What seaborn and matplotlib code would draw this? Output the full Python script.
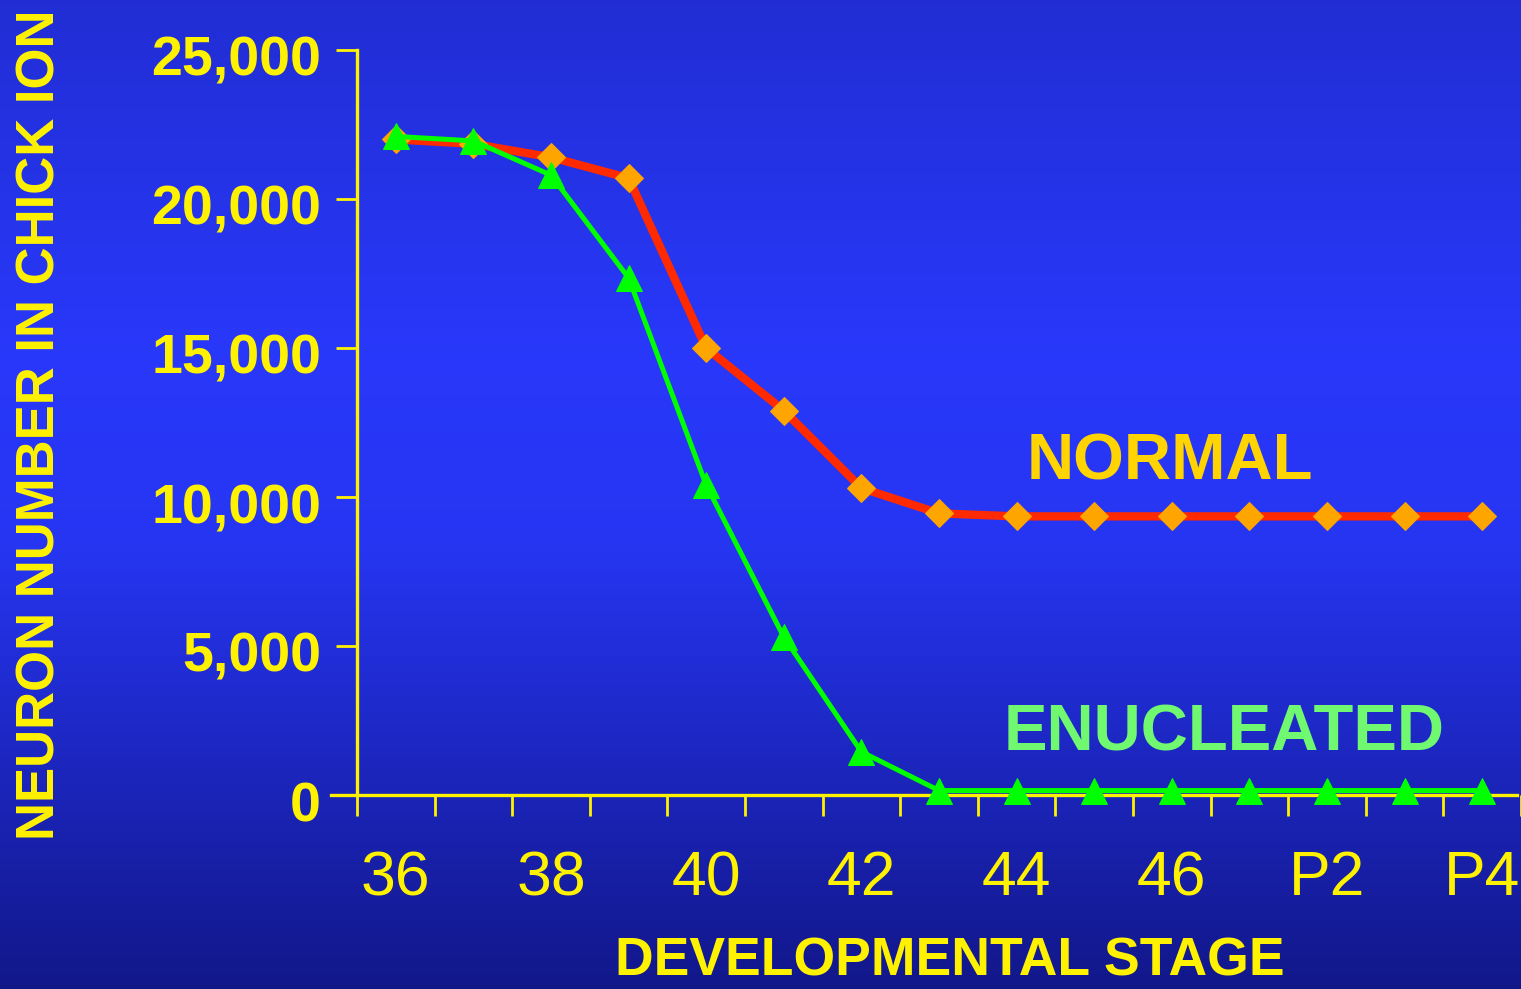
import numpy as np
import pandas as pd
import matplotlib
matplotlib.use("Agg")
import matplotlib.pyplot as plt
import matplotlib.transforms as mtransforms
from matplotlib.colors import LinearSegmentedColormap
import seaborn as sns

sns.set_style("white")
plt.rcParams['font.family'] = ['Liberation Sans', 'DejaVu Sans']

# data
stages = ["36", "37", "38", "39", "40", "41", "42", "43", "44", "45", "46",
          "P1", "P2", "P3", "P4"]
normal = [22000, 21850, 21400, 20700, 15000, 12900, 10300, 9450, 9350,
          9350, 9350, 9350, 9350, 9350, 9350]
enucleated = [22100, 21950, 20800, 17350, 10400, 5300, 1450, 150, 150,
              150, 150, 150, 150, 150, 150]
tick_labels = ["36", "38", "40", "42", "44", "46", "P2", "P4"]
y_ticks = [0, 5000, 10000, 15000, 20000, 25000]

YELLOW = "#FFF200"

df = pd.DataFrame({"stage": stages * 2,
                   "neurons": normal + enucleated,
                   "group": ["NORMAL"] * len(stages) + ["ENUCLEATED"] * len(stages)})
df["pos"] = np.tile(np.arange(len(stages)), 2)

fig = plt.figure(figsize=(15.21, 9.89), dpi=100)

# blue slide background
bg = fig.add_axes([0, 0, 1, 1], zorder=-10)
grad = LinearSegmentedColormap.from_list("slide", [
    (0.0, (0.13, 0.18, 0.83)),
    (0.35, (0.16, 0.22, 0.98)),
    (0.55, (0.15, 0.21, 0.95)),
    (1.0, (0.07, 0.09, 0.54))])
bg.imshow(np.linspace(0, 1, 256).reshape(-1, 1), aspect="auto", cmap=grad,
          extent=[0, 1, 0, 1])
bg.set_axis_off()

ax = fig.add_axes([357 / 1521, 194 / 989, 1164 / 1521, 745 / 989])
ax.set_facecolor("none")

sns.lineplot(data=df[df.group == "NORMAL"], x="pos", y="neurons", ax=ax,
             color="#FF2A00", linewidth=6, marker="D", markersize=14,
             markerfacecolor="#FFA500", markeredgecolor="#FFA500", zorder=3,
             clip_on=False)
sns.lineplot(data=df[df.group == "ENUCLEATED"], x="pos", y="neurons", ax=ax,
             color="#00FF00", linewidth=3.6, marker="^", markersize=19,
             markerfacecolor="#00FF00", markeredgecolor="#00FF00", zorder=4,
             clip_on=False)

ax.set_xlim(-0.5, 14.45)
ax.set_ylim(0, 25000)

lab_pos = [stages.index(s) for s in tick_labels]
ax.set_xticks(lab_pos, tick_labels)
ax.set_xticks(np.arange(-0.5, len(stages), 1), minor=True)
ax.tick_params(axis="x", which="major", bottom=True, length=0, pad=39,
               labelsize=45, labelcolor=YELLOW)
ax.tick_params(axis="x", which="minor", bottom=True, length=15, width=2,
               color=YELLOW, direction="out")

ax.set_yticks(y_ticks, [f"{v:,}" for v in y_ticks])
ax.tick_params(axis="y", left=True, length=15, width=2, color=YELLOW, pad=11,
               labelsize=40, labelcolor=YELLOW, direction="out")
shift = mtransforms.ScaledTranslation(0, -6 / 100, fig.dpi_scale_trans)
for t in ax.get_yticklabels():
    t.set_fontweight("bold")
    t.set_transform(t.get_transform() + shift)

for side in ["top", "right"]:
    ax.spines[side].set_visible(False)
for side in ["left", "bottom"]:
    ax.spines[side].set_color(YELLOW)
    ax.spines[side].set_linewidth(2.4)
ax.spines["bottom"].set_bounds(-0.5 - 26 / 77.86, 14.45)

ax.set_xlabel("")
ax.set_ylabel("")
ax.grid(False)
if ax.get_legend():
    ax.get_legend().remove()

fig.text(950 / 1521, 1 - 962 / 989, "DEVELOPMENTAL STAGE", color=YELLOW,
         fontsize=38.5, fontweight="bold", ha="center", va="center")
fig.text(41 / 1521, 1 - 425 / 989, "NEURON NUMBER IN CHICK ION", color=YELLOW,
         fontsize=38, fontweight="bold", ha="center", va="center", rotation=90)

ax.text(8.13, 11150, "NORMAL", color="#FFD400", fontsize=47,
        fontweight="bold", ha="left", va="center")
ax.text(7.83, 2080, "ENUCLEATED", color="#70F870", fontsize=47,
        fontweight="bold", ha="left", va="center")

fig.savefig("out.png", dpi=100)
